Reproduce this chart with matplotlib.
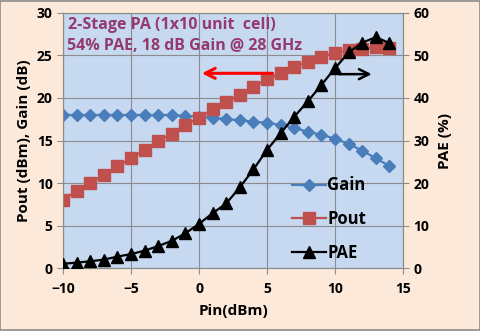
import matplotlib.pyplot as plt
from matplotlib.patches import Rectangle

pin = [-10, -9, -8, -7, -6, -5, -4, -3, -2, -1, 0, 1, 2,
       3, 4, 5, 6, 7, 8, 9, 10, 11, 12, 13, 14]
gain = [18.0, 18.0, 18.0, 18.0, 18.0, 18.0, 18.0, 18.0, 18.0, 17.9, 17.8, 17.7, 17.5,
        17.4, 17.2, 17.1, 16.8, 16.5, 16.0, 15.7, 15.2, 14.6, 13.8, 12.9, 12.0]
pout = [8.0, 9.1, 10.0, 11.0, 12.0, 12.9, 13.9, 14.9, 15.8, 16.8, 17.7, 18.7, 19.5,
        20.4, 21.3, 22.2, 22.9, 23.7, 24.2, 24.8, 25.3, 25.6, 25.8, 26.0, 25.9]
pae = [1.0, 1.3, 1.6, 2.0, 2.7, 3.3, 4.1, 5.2, 6.4, 8.2, 10.4, 12.9, 15.2,
       19.0, 23.2, 27.8, 31.7, 35.6, 39.2, 43.1, 47.0, 50.7, 53.0, 54.3, 52.9]

plt.rcParams['font.family'] = ['Open Sans', 'DejaVu Sans']
plt.rcParams['font.weight'] = 'bold'

fig = plt.figure(figsize=(4.81, 3.31), dpi=100, facecolor='#fde9d9')
ax = fig.add_axes([0.131, 0.190, 0.707, 0.771])
ax.set_facecolor('#c6d9f1')
ax2 = ax.twinx()

l1, = ax.plot(pin, gain, color='#4a7ebb', lw=1.6, marker='D', ms=6.5, zorder=3)
l2, = ax.plot(pin, pout, color='#c0504d', lw=1.6, marker='s', ms=8, zorder=3)
l3, = ax2.plot(pin, pae, color='black', lw=1.6, marker='^', ms=8, zorder=3)

ax.set_xlim(-10, 15)
ax.set_ylim(0, 30)
ax2.set_ylim(0, 60)
ax.set_xticks([-10, -5, 0, 5, 10, 15])
ax.set_yticks([0, 5, 10, 15, 20, 25, 30])
ax2.set_yticks([0, 10, 20, 30, 40, 50, 60])
ax.grid(True, color='#8c8c8c', lw=0.8)
ax.set_axisbelow(True)

for a in (ax, ax2):
    for s in a.spines.values():
        s.set_color('#8c8c8c')
    a.tick_params(colors='#8c8c8c', labelcolor='black', labelsize=10, length=4, width=0.8)
ax.tick_params(axis='x', pad=6)

ax.set_xlabel('Pin(dBm)', fontsize=11, fontweight='bold', labelpad=6)
ax.set_ylabel('Pout (dBm), Gain (dB)', fontsize=11, fontweight='bold', labelpad=4)
ax2.set_ylabel('PAE (%)', fontsize=11, fontweight='bold', labelpad=6)

ax.text(-9.6, 28.6, '2-Stage PA (1x10 unit  cell)', color='#953a6e', fontsize=11.5,
        fontweight='bold', va='center')
ax.text(-9.7, 26.1, '54% PAE, 18 dB Gain @ 28 GHz', color='#953a6e', fontsize=11.5,
        fontweight='bold', va='center')

ax.annotate('', xy=(0.0, 22.9), xytext=(5.6, 22.9),
            arrowprops=dict(arrowstyle='->', color='red', lw=2.2, mutation_scale=18))
ax.annotate('', xy=(12.9, 22.8), xytext=(10.1, 22.8),
            arrowprops=dict(arrowstyle='->', color='black', lw=1.8, mutation_scale=18))

leg = ax2.legend([l1, l2, l3], ['Gain', 'Pout', 'PAE'], loc='lower left',
                 bbox_to_anchor=(0.63, -0.035), frameon=False, labelspacing=0.95,
                 handlelength=2.0, handletextpad=0.1, prop={'weight': 'bold', 'size': 12})

fig.patches.append(Rectangle((0.001, 0.002), 0.997, 0.995, transform=fig.transFigure,
                             fill=False, edgecolor='#8c8c8c', lw=1.2))

fig.savefig('out.png', dpi=100, facecolor=fig.get_facecolor())
